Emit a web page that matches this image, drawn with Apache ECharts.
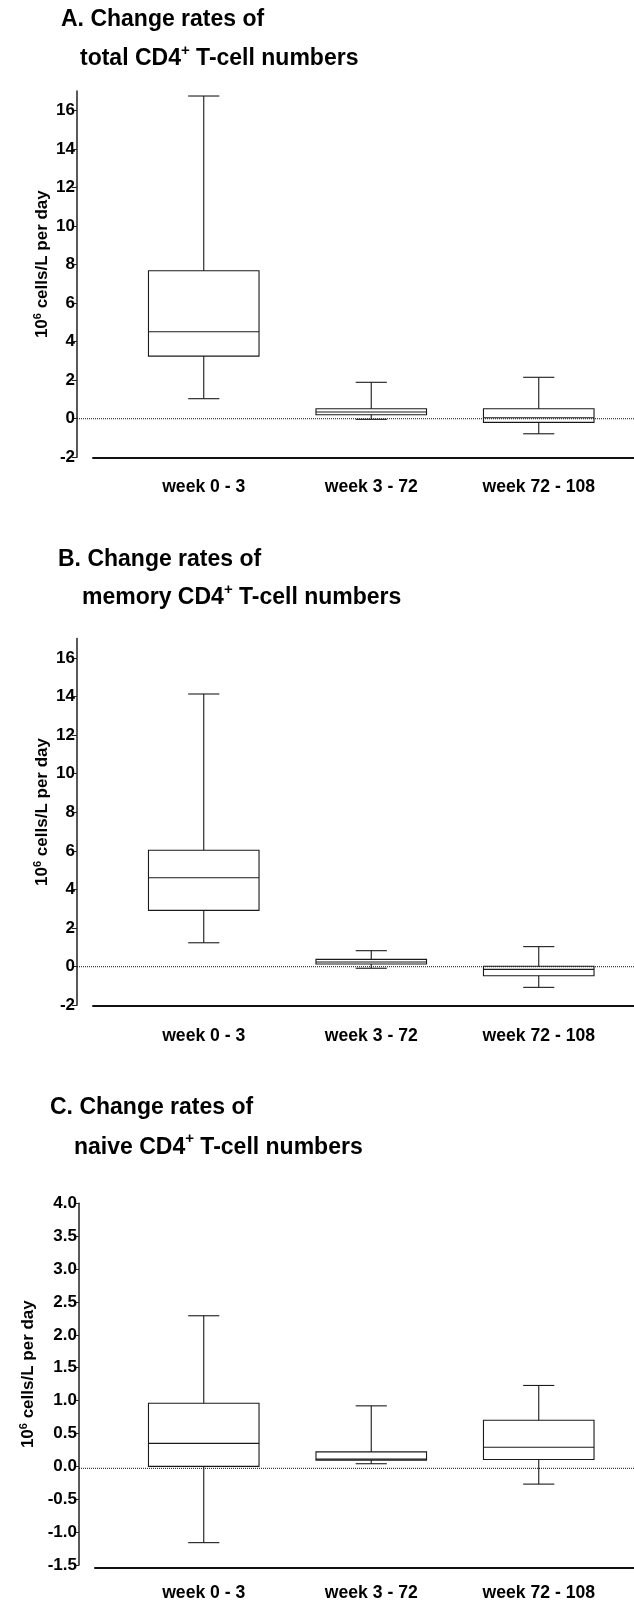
<!DOCTYPE html>
<html><head><meta charset="utf-8">
<script src="https://cdn.jsdelivr.net/npm/echarts@6/dist/echarts.min.js"></script>
<style>html,body{margin:0;padding:0;background:#fff}#c{width:634px;height:1602px}</style>
</head><body><div id="c"></div>
<script>
// ---- data ----
const categories = ['week 0 - 3', 'week 3 - 72', 'week 72 - 108'];
// each box: [min, Q1, median, Q3, max]
const totalCD4 = [[1.04, 3.25, 4.51, 7.68, 16.74], [-0.03, 0.21, 0.35, 0.52, 1.89], [-0.78, -0.19, 0.05, 0.52, 2.15]];
const memoryCD4 = [[1.24, 2.92, 4.61, 6.03, 14.13], [-0.08, 0.14, 0.24, 0.38, 0.83], [-1.07, -0.47, -0.14, 0.02, 1.04]];
const naiveCD4 = [[-1.16, 0.0, 0.35, 0.96, 2.29], [0.04, 0.095, 0.11, 0.22, 0.92], [-0.27, 0.105, 0.29, 0.70, 1.23]];
const ticksAB = [-2, 0, 2, 4, 6, 8, 10, 12, 14, 16];
const ticksC = [-1.5, -1.0, -0.5, 0.0, 0.5, 1.0, 1.5, 2.0, 2.5, 3.0, 3.5, 4.0];
const refLine = [0, 0];
const titleLead = ['A. Change rates of', 'B. Change rates of', 'C. Change rates of'];
const titleSubject = ['total CD4', 'memory CD4', 'naive CD4'];
const titleTail = ' T-cell numbers';
const yName = ['10', '6', ' cells/L per day'];

// ---- layout ----
const FONT = "'Liberation Sans', Arial, sans-serif";
const panels = [
  {data: totalCD4, ticks: ticksAB, min: -2, max: 17, interval: 2, dec: 0,
   top: 91, height: 366.3, axisX: 77, xLineLeft: 93, xOff: 16, nameGap: 28,
   t1: [61, 4.2], t2: [80, 43.2]},
  {data: memoryCD4, ticks: ticksAB, min: -2, max: 17, interval: 2, dec: 0,
   top: 638.6, height: 366.7, axisX: 77, xLineLeft: 93, xOff: 16.5, nameGap: 28,
   t1: [58, 544.2], t2: [82, 582.5]},
  {data: naiveCD4, ticks: ticksC, min: -1.5, max: 4, interval: 0.5, dec: 1,
   top: 1203.3, height: 364.4, axisX: 79, xLineLeft: 95, xOff: 14, nameGap: 44,
   t1: [50, 1091.8], t2: [74, 1131.8]}
];

function renderBox(params, api) {
  const i = api.value(0);
  const med = api.coord([i, api.value(3)]);
  const x = med[0];
  const yMin = api.coord([i, api.value(1)])[1];
  const yQ1 = api.coord([i, api.value(2)])[1];
  const yQ3 = api.coord([i, api.value(4)])[1];
  const yMax = api.coord([i, api.value(5)])[1];
  const band = api.size([1, 0])[0];
  const hw = band * 0.33, cw = band * 0.093;
  const st = {stroke: '#1a1a1a', lineWidth: 1.1, fill: null};
  return {type: 'group', children: [
    {type: 'rect', shape: {x: x - hw, y: yQ3, width: 2 * hw, height: yQ1 - yQ3}, style: {stroke: '#1a1a1a', fill: 'none', lineWidth: 1.1}},
    {type: 'line', shape: {x1: x - hw, y1: med[1], x2: x + hw, y2: med[1]}, style: st},
    {type: 'line', shape: {x1: x, y1: yQ3, x2: x, y2: yMax}, style: st},
    {type: 'line', shape: {x1: x, y1: yQ1, x2: x, y2: yMin}, style: st},
    {type: 'line', shape: {x1: x - cw, y1: yMax, x2: x + cw, y2: yMax}, style: st},
    {type: 'line', shape: {x1: x - cw, y1: yMin, x2: x + cw, y2: yMin}, style: st}
  ]};
}

const titleRich = {
  m: {fontFamily: FONT, fontWeight: 'bold', fontSize: 23, lineHeight: 23, padding: [8, 0, 0, 0], color: '#000'},
  s: {fontFamily: FONT, fontWeight: 'bold', fontSize: 15, lineHeight: 15, verticalAlign: 'top', color: '#000'}
};

const option = {animation: false, backgroundColor: '#fff', title: [], grid: [], xAxis: [], yAxis: [], series: []};

panels.forEach((p, k) => {
  option.title.push({left: p.t1[0], top: p.t1[1], padding: 0,
    text: '{m|' + titleLead[k] + '}', textStyle: {rich: titleRich}});
  option.title.push({left: p.t2[0], top: p.t2[1], padding: 0,
    text: '{m|' + titleSubject[k] + '}{s|+}{m|' + titleTail + '}', textStyle: {rich: titleRich}});

  const g = option.grid.length;
  option.grid.push({left: 120, right: 11.5, top: p.top, height: p.height});
  option.grid.push({left: p.axisX, right: 0, top: p.top, height: p.height});
  option.grid.push({left: p.xLineLeft, right: 0, top: p.top, height: p.height});

  const xi = option.xAxis.length, yi = option.yAxis.length;
  option.xAxis.push({
    type: 'category', gridIndex: g, data: categories, offset: p.xOff,
    axisLine: {show: false}, axisTick: {show: false},
    axisLabel: {margin: 5, color: '#000', fontFamily: FONT, fontWeight: 'bold', fontSize: 17.6}
  });
  option.xAxis.push({type: 'category', gridIndex: g + 1, data: ['', ''], boundaryGap: false, show: false});
  option.xAxis.push({type: 'value', gridIndex: g + 2, offset: p.xOff, min: 0, max: 1,
    axisLine: {show: true, lineStyle: {color: '#111', width: 2}}, axisTick: {show: false},
    axisLabel: {show: false}, splitLine: {show: false}});

  option.yAxis.push({
    type: 'value', gridIndex: g, min: p.min, max: p.max, interval: p.interval, offset: 120 - p.axisX,
    name: '{a|' + yName[0] + '}{b|' + yName[1] + '}{a|' + yName[2] + '}',
    nameLocation: 'middle', nameGap: p.nameGap, nameRotate: 90, nameMoveOverlap: false,
    nameTextStyle: {padding: [0, 0, 0, 20], rich: {
      a: {fontFamily: FONT, fontWeight: 'bold', fontSize: 17, lineHeight: 17, padding: [3, 0, 0, 0], color: '#000'},
      b: {fontFamily: FONT, fontWeight: 'bold', fontSize: 11, lineHeight: 11, verticalAlign: 'top', color: '#000'}
    }},
    axisLine: {show: true, lineStyle: {color: '#222', width: 1.5}},
    axisTick: {show: true, length: 5, customValues: p.ticks, lineStyle: {color: '#222', width: 1}},
    axisLabel: {margin: 2, customValues: p.ticks, color: '#000', fontFamily: FONT, fontWeight: 'bold', fontSize: 17,
      formatter: v => Number(v).toFixed(p.dec)},
    splitLine: {show: false}
  });
  option.yAxis.push({type: 'value', gridIndex: g + 1, min: p.min, max: p.max, show: false, splitLine: {show: false}});
  option.yAxis.push({type: 'value', gridIndex: g + 2, min: 0, max: 1, show: false, splitLine: {show: false}});

  option.series.push({
    type: 'line', xAxisIndex: xi + 1, yAxisIndex: yi + 1, data: refLine, symbol: 'none', silent: true,
    lineStyle: {type: 'dotted', color: '#111', width: 1}, z: 1
  });
  option.series.push({
    type: 'custom', xAxisIndex: xi, yAxisIndex: yi, renderItem: renderBox, silent: true, z: 3,
    encode: {x: 0, y: [1, 2, 3, 4, 5]},
    data: p.data.map((d, i) => [i].concat(d))
  });
});

const chart = echarts.init(document.getElementById('c'), null, {renderer: 'canvas'});
chart.setOption(option);
</script>
</body></html>
